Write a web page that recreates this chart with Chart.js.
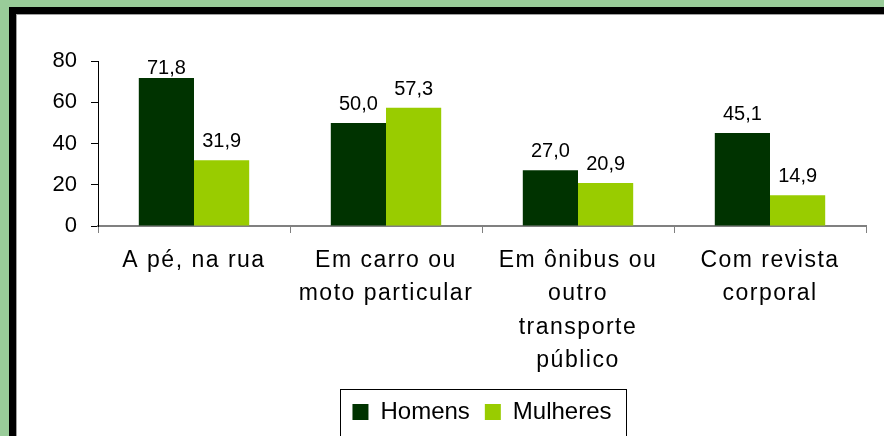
<!DOCTYPE html>
<html lang="pt">
<head>
<meta charset="utf-8">
<title>Revista por sexo</title>
<script src="https://cdn.jsdelivr.net/npm/chart.js@4.4.1/dist/chart.umd.min.js"></script>
<style>
  html, body { margin: 0; padding: 0; }
  body {
    width: 884px;
    height: 436px;
    overflow: hidden;
    position: relative;
    background: #99cc99;
  }
  .frame {
    position: absolute;
    left: 9px;
    top: 7px;
    width: 1000px;
    height: 1000px;
    border: 7px solid #000;
    background: #fff;
    box-shadow: inset 0 0 0 1px #a0a0a0;
  }
  #chart {
    position: absolute;
    left: 0;
    top: 0;
  }
</style>
</head>
<body>
<div class="frame"></div>
<canvas id="chart" width="884" height="436"></canvas>
<script>
const categories = [
  ['A pé, na rua'],
  ['Em carro ou', 'moto particular'],
  ['Em ônibus ou', 'outro', 'transporte', 'público'],
  ['Com revista', 'corporal']
];
const homens = [71.8, 50.0, 27.0, 45.1];
const mulheres = [31.9, 57.3, 20.9, 14.9];
const yTicks = [0, 20, 40, 60, 80];

const FONT = 'Arial, "Liberation Sans", Helvetica, sans-serif';

const fmt = v => v.toFixed(1).replace('.', ',');

// value labels above each bar, kept inside the plot top
const barValues = {
  id: 'barValues',
  afterDatasetsDraw(chart) {
    const ctx = chart.ctx;
    const top = chart.chartArea.top;
    ctx.save();
    ctx.font = '20px ' + FONT;
    ctx.fillStyle = '#000';
    ctx.textAlign = 'center';
    ctx.textBaseline = 'alphabetic';
    chart.data.datasets.forEach((ds, i) => {
      chart.getDatasetMeta(i).data.forEach((bar, j) => {
        const y = Math.max(bar.y - 13, top + 13);
        ctx.fillText(fmt(ds.data[j]), bar.x, y);
      });
    });
    ctx.restore();
  }
};

// wider tracking for the category labels
const wideLabels = {
  id: 'wideLabels',
  afterLayout(chart) {
    const x = chart.scales.x;
    if (x._wide) return;
    const draw = x.drawLabels.bind(x);
    x.drawLabels = function (area) {
      const ctx = this.ctx;
      ctx.save();
      ctx.letterSpacing = '1.5px';
      draw(area);
      ctx.restore();
    };
    x._wide = true;
  }
};

// centre the legend under the plot and box it in
const legendBox = {
  id: 'legendBox',
  afterLayout(chart) {
    const lg = chart.legend;
    lg.left = chart.chartArea.left;
    lg.right = chart.chartArea.right;
    lg.width = lg.right - lg.left;
  },
  afterDraw(chart) {
    const boxes = chart.legend.legendHitBoxes;
    if (!boxes || !boxes.length) return;
    const first = boxes[0];
    const last = boxes[boxes.length - 1];
    const ctx = chart.ctx;
    ctx.save();
    ctx.strokeStyle = '#000';
    ctx.lineWidth = 1;
    const x0 = Math.round(first.left - 12) + 0.5;
    const x1 = Math.round(last.left + last.width + 14) + 0.5;
    const y0 = Math.round(first.top - 11) + 0.5;
    ctx.strokeRect(x0, y0, x1 - x0, chart.height + 10 - y0);
    ctx.restore();
  }
};

new Chart(document.getElementById('chart'), {
  type: 'bar',
  data: {
    labels: categories,
    datasets: [
      {
        label: 'Homens',
        data: homens,
        backgroundColor: '#003300',
        borderWidth: 0
      },
      {
        label: 'Mulheres',
        data: mulheres,
        backgroundColor: '#99cc00',
        borderWidth: 0
      }
    ]
  },
  options: {
    responsive: false,
    animation: false,
    devicePixelRatio: 1,
    categoryPercentage: 0.575,
    barPercentage: 1,
    layout: {
      padding: { top: 61, right: 18, bottom: 2, left: 0 }
    },
    scales: {
      x: {
        grid: {
          display: true,
          drawOnChartArea: false,
          drawTicks: true,
          tickLength: 7,
          color: '#808080',
          lineWidth: 1,
          offset: true
        },
        border: { display: true, color: '#808080', width: 2 },
        ticks: {
          color: '#000',
          padding: 11,
          maxRotation: 0,
          autoSkip: false,
          font: { family: FONT, size: 23, lineHeight: 1.45 }
        },
        afterFit(scale) { scale.height = 159; }
      },
      y: {
        min: 0,
        max: 80,
        afterBuildTicks(scale) { scale.ticks = yTicks.map(v => ({ value: v })); },
        grid: {
          display: true,
          drawOnChartArea: false,
          drawTicks: true,
          tickLength: 7,
          color: '#000',
          lineWidth: 1
        },
        border: { display: true, color: '#000', width: 1 },
        ticks: {
          color: '#000',
          padding: 14,
          font: { family: FONT, size: 22 }
        },
        afterFit(scale) { scale.width = 98; }
      }
    },
    plugins: {
      tooltip: { enabled: false },
      legend: {
        position: 'bottom',
        align: 'center',
        labels: {
          color: '#000',
          boxWidth: 16,
          boxHeight: 16,
          padding: 15,
          font: { family: FONT, size: 24 }
        }
      }
    }
  },
  plugins: [barValues, wideLabels, legendBox]
});
</script>
</body>
</html>
